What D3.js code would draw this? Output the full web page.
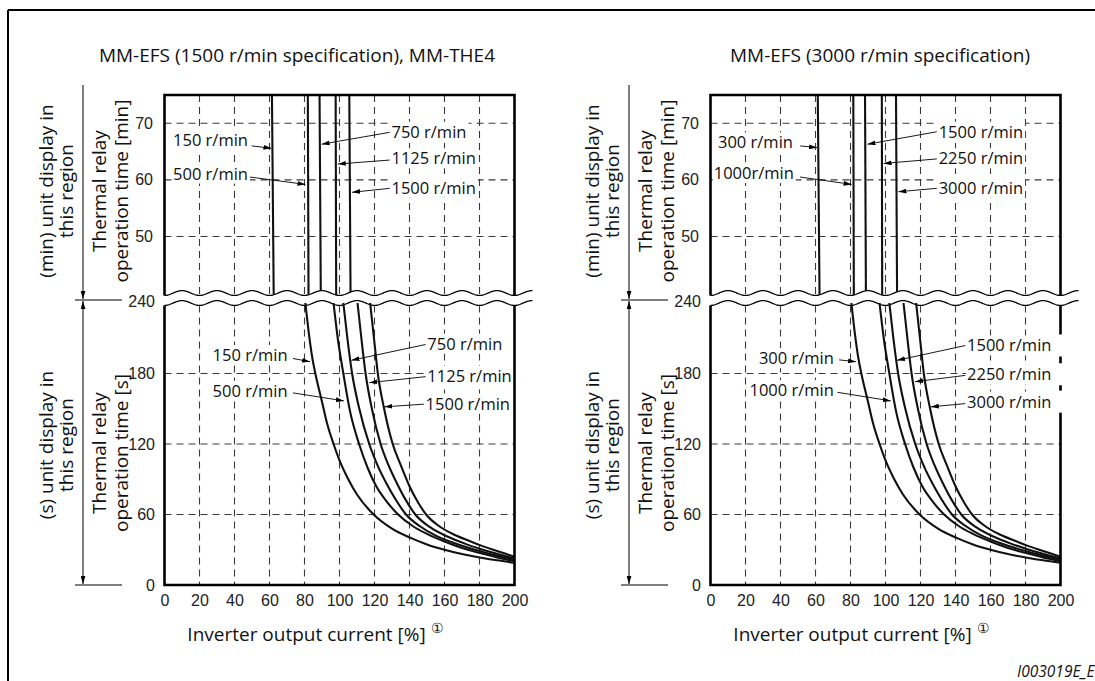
<!DOCTYPE html>
<html><head><meta charset="utf-8">
<script src="https://cdn.jsdelivr.net/npm/d3@7"></script>
<style>
body{margin:0;background:#fff;}
svg{display:block;}
</style></head><body>
<svg id="c" width="1095" height="681"></svg>
<script>
// ---------------- data ----------------
const xTicks = [0,20,40,60,80,100,120,140,160,180,200];
const minTicks = [50,60,70];
const secTicks = [0,60,120,180,240];
const titles = ["MM-EFS (1500 r/min specification), MM-THE4", "MM-EFS (3000 r/min specification)"];
const speedsA = ["150 r/min","500 r/min","750 r/min","1125 r/min","1500 r/min"];
const speedsB = ["300 r/min","1000 r/min","1500 r/min","2250 r/min","3000 r/min"];
const speedsBUpper = ["300 r/min","1000r/min","1500 r/min","2250 r/min","3000 r/min"];
// minute region: inverter current [%] at 75 min and at the lower break
const minLinesA = [[61.4,62.4],[81.9,82.3],[88.6,89.3],[97.8,98.1],[105.6,106.3]];
const minLinesB = [[61.3,62.3],[81.6,81.9],[88.3,88.8],[97.9,98.1],[106.0,106.6]];
// second region: [inverter current %, operation time s]
const sec1 = [[80.5,240],[82.5,214],[84.5,193],[86.2,180],[90,156],[93,137],[96.6,120],[100,106],[105,90],[110,77],[119.5,60],[130,48],[140,40.5],[150,34.5],[160,30],[170,26.3],[181,23.2],[190,21],[200,19]];
const sec2 = [[96.6,240],[99,210],[102.2,180],[106,148],[111.2,120],[116,100],[121,84],[127,71],[133.5,60],[142,50],[150,43.5],[160,37],[170,31.5],[181,27],[190,23.5],[200,20.5]];
const sec3 = [[102.2,240],[104.5,210],[107.2,180],[111,152],[117,120],[122,101],[127,86],[132,73],[138,60],[146,50],[155,42],[165,36],[181,28.5],[190,25],[200,21.5]];
const sec4 = [[110.3,240],[112.5,210],[114.9,180],[118.5,150],[123.5,120],[128,102],[133,86],[138,72],[143.3,60],[152,49],[162,41],[172,35],[181,30.5],[190,26.5],[200,22.5]];
const sec5 = [[117.5,240],[119.7,210],[121.9,180],[125.5,150],[130.4,120],[135,102],[140,84],[145,70],[149.5,60],[157,50],[166,42.5],[175,37],[181,33.5],[190,29],[200,24]];
const secCurves = [sec1, sec2, sec3, sec4, sec5];
// callouts: [label index, anchor, text x%, text value, from x%, from value, tip x%, tip value]
const upCallA = [[0,"end",47.7,67.0,49.8,66.0,61.1,65.6],[1,"end",47.7,61.1,48.8,60.5,80.5,59.2],[2,"start",129.7,68.5,128.7,68.4,89.8,66.3],[3,"start",129.7,63.8,128.7,63.5,99.0,62.8],[4,"start",129.7,58.6,128.7,58.5,107.2,57.8]];
const lowCallA = [[0,"end",70.3,195.7,73.4,192.8,83.2,190],[1,"end",70.3,165.2,73.4,163.5,102.5,156.7],[2,"start",150.2,205.3,149.2,204.7,106.8,191.2],[3,"start",150.2,177.9,149.2,177.3,117.0,172.2],[4,"start",149.2,154.4,148.2,153.9,125.6,151.6]];
const upCallB = [[0,"end",47.1,66.6,51.2,66.0,60.9,65.7],[1,"end",47.6,61.2,51.2,60.5,80.6,59.2],[2,"start",130.4,68.5,129.3,68.5,89.7,66.3],[3,"start",130.4,63.8,129.3,63.7,98.9,62.9],[4,"start",130.4,58.6,129.3,58.5,107.4,57.9]];
const lowCallB = [[0,"end",70.5,193.0,73.5,191.6,83.2,190],[1,"end",70.5,165.9,72.5,164.0,103.0,156.7],[2,"start",146.6,203.8,145.6,203.8,106.6,191.2],[3,"start",146.6,179.3,145.6,178.4,116.8,173.0],[4,"start",146.6,156.0,145.6,154.4,125.9,151.6]];

// ---------------- drawing ----------------
const svg = d3.select("#c");
const SANS = "'Open Sans', 'Noto Sans', sans-serif";
const ARIAL = "'Liberation Sans', Arial, sans-serif";

svg.append("defs").append("marker")
  .attr("id","ah").attr("viewBox","0 0 10 6").attr("refX",10).attr("refY",3)
  .attr("markerWidth",8).attr("markerHeight",5).attr("markerUnits","userSpaceOnUse")
  .attr("orient","auto-start-reverse")
  .append("path").attr("d","M0,0 L10,3 L0,6 Z").attr("fill","#000");

// outer frame
svg.append("line").attr("x1",8).attr("x2",1095).attr("y1",10).attr("y2",10).attr("stroke","#000").attr("stroke-width",2);
svg.append("line").attr("x1",8).attr("x2",8).attr("y1",10).attr("y2",681).attr("stroke","#000").attr("stroke-width",2);

const charts = [
  {dx:0, title:titles[0], titleX:297, speedsU:speedsA, speedsL:speedsA, minLines:minLinesA, up:upCallA, low:lowCallA, cover:false},
  {dx:546, title:titles[1], titleX:880, speedsU:speedsBUpper, speedsL:speedsB, minLines:minLinesB, up:upCallB, low:lowCallB, cover:true}
];

const WAVE_P = 35, WAVE_A = 2.4;

charts.forEach(ch => {
  const g = svg.append("g");
  const x = d3.scaleLinear().domain([0,200]).range([164.5+ch.dx, 514.5+ch.dx]);
  const yU = d3.scaleLinear().domain([40,75]).range([293,95]);
  const yL = d3.scaleLinear().domain([0,240]).range([585,303]);
  const x0 = x(0), x1 = x(200);
  const waveY = (base, px) => base + WAVE_A*Math.cos(2*Math.PI*(px-x0)/WAVE_P);

  // title
  g.append("text").attr("x",ch.titleX).attr("y",62).attr("text-anchor","middle")
    .attr("font-family",SANS).attr("font-size",19).attr("fill","#111").text(ch.title);

  // grid
  const grid = g.append("g").attr("stroke","#3a3a3a").attr("stroke-width",1.1).attr("stroke-dasharray","7,5");
  xTicks.slice(1,-1).forEach(v => {
    grid.append("line").attr("x1",x(v)).attr("x2",x(v)).attr("y1",yU(75)).attr("y2",waveY(yU(40),x(v)));
    grid.append("line").attr("x1",x(v)).attr("x2",x(v)).attr("y1",waveY(yL(240),x(v))).attr("y2",yL(0));
  });
  minTicks.forEach(v => grid.append("line").attr("x1",x0).attr("x2",x1).attr("y1",yU(v)).attr("y2",yU(v)));
  secTicks.slice(1,-1).forEach(v => grid.append("line").attr("x1",x0).attr("x2",x1).attr("y1",yL(v)).attr("y2",yL(v)));

  // waves
  const wavePts = base => d3.range(x0, x1+18.5, 1).map(px => [px, waveY(base, px)]);
  const wl = d3.line();
  g.append("path").attr("d",wl(wavePts(yU(40)))).attr("fill","none").attr("stroke","#000").attr("stroke-width",1.3);
  g.append("path").attr("d",wl(wavePts(yL(240)))).attr("fill","none").attr("stroke","#000").attr("stroke-width",1.3);

  // minute-region lines
  g.append("g").selectAll("line").data(ch.minLines).join("line")
    .attr("x1",d=>x(d[0])).attr("y1",yU(75)).attr("x2",d=>x(d[1])).attr("y2",d=>waveY(yU(40),x(d[1])))
    .attr("stroke","#111").attr("stroke-width",2.1);

  // second-region curves
  const line = d3.line().x(d=>x(d[0])).y(d=>yL(d[1])).curve(d3.curveMonotoneX);
  g.append("g").selectAll("path").data(secCurves).join("path")
    .attr("d",line).attr("fill","none").attr("stroke","#111").attr("stroke-width",2.1);

  // callouts
  const covers = [];
  const callout = (list, yS, names, isLow) => {
    list.forEach(c => {
      const [i, anchor, tx, tv, fx, fv, px, pv] = c;
      g.append("line").attr("x1",x(fx)).attr("y1",yS(fv)).attr("x2",x(px)).attr("y2",yS(pv))
        .attr("stroke","#000").attr("stroke-width",0.9).attr("marker-end","url(#ah)");
      const t = g.append("text").attr("x",x(tx)).attr("y",yS(tv)).attr("dy","0.36em")
        .attr("text-anchor",anchor).attr("font-family",SANS).attr("font-size",16.5).attr("fill","#111")
        .text(names[i]);
      const b = t.node().getBBox();
      g.insert("rect", () => t.node()).attr("x",b.x-1).attr("y",b.y+2).attr("width",b.width+3).attr("height",b.height-3).attr("fill","#fff");
      if (isLow && anchor === "start") covers.push(b);
    });
  };
  callout(ch.up, yU, ch.speedsU, false);
  callout(ch.low, yL, ch.speedsL, true);

  // frames
  const fr = g.append("g").attr("stroke","#000").attr("stroke-width",2.6).attr("fill","none");
  fr.append("path").attr("d",`M${x0},${waveY(yU(40),x0)}V${yU(75)}H${x1}V${waveY(yU(40),x1)}`);
  fr.append("path").attr("d",`M${x0},${waveY(yL(240),x0)}V${yL(0)}H${x1}V${waveY(yL(240),x1)}`);
  if (ch.cover) covers.forEach(b => g.append("rect").attr("x",b.x+b.width).attr("y",b.y+1).attr("width",x1+3-(b.x+b.width)).attr("height",b.height-1).attr("fill","#fff"));

  // axes
  const ax = g.append("g").attr("transform",`translate(0,${yL(0)})`)
    .call(d3.axisBottom(x).tickValues(xTicks).tickSize(0).tickPadding(9.5));
  ax.select(".domain").remove();
  ax.selectAll("text").attr("font-family",ARIAL).attr("font-size",16).attr("fill","#222");
  const ayU = g.append("g").attr("transform",`translate(${x0},0)`)
    .call(d3.axisLeft(yU).tickValues(minTicks).tickSize(0).tickPadding(11.5));
  ayU.select(".domain").remove();
  ayU.selectAll("text").attr("font-family",ARIAL).attr("font-size",16).attr("fill","#222");
  const ayL = g.append("g").attr("transform",`translate(${x0},0)`)
    .call(d3.axisLeft(yL).tickValues(secTicks).tickSize(0).tickPadding(9.5));
  ayL.select(".domain").remove();
  ayL.selectAll("text").attr("font-family",ARIAL).attr("font-size",16).attr("fill","#222");
  ayL.selectAll(".tick").filter(d=>d===240).attr("transform",`translate(0,${yL(240)-1})`);

  // x-axis title
  const axc = (x0+x1)/2 - 33;
  g.append("text").attr("x",axc).attr("y",641).attr("text-anchor","middle")
    .attr("font-family",SANS).attr("font-size",19).attr("fill","#111").text("Inverter output current [%]");
  g.append("text").attr("x",axc+124).attr("y",633).attr("text-anchor","start")
    .attr("font-family",SANS).attr("font-size",14).attr("fill","#111").text("\u2460");

  // dimension arrows on the left
  const ax0 = 83 + ch.dx;
  const dim = g.append("g").attr("stroke","#000").attr("stroke-width",1);
  dim.append("line").attr("x1",ax0).attr("x2",ax0).attr("y1",85).attr("y2",299).attr("marker-end","url(#ah)");
  dim.append("line").attr("x1",75+ch.dx).attr("x2",122+ch.dx).attr("y1",300).attr("y2",300);
  dim.append("line").attr("x1",ax0).attr("x2",ax0).attr("y1",301).attr("y2",584)
    .attr("marker-start","url(#ah)").attr("marker-end","url(#ah)");
  dim.append("line").attr("x1",75+ch.dx).attr("x2",122+ch.dx).attr("y1",yL(0)).attr("y2",yL(0));

  // rotated labels
  const rot = (cx, cy, lines, gap) => {
    const rg = g.append("g").attr("transform",`translate(${cx},${cy}) rotate(-90)`);
    lines.forEach((t,i) => rg.append("text").attr("x",0).attr("y",(i-(lines.length-1)/2)*gap).attr("dy","0.36em")
      .attr("text-anchor","middle").attr("font-family",SANS).attr("font-size",19).attr("fill","#111").text(t));
  };
  rot(56+ch.dx, 191, ["(min) unit display in","this region"], 19.5);
  rot(110+ch.dx, 191, ["Thermal relay","operation time [min]"], 22.5);
  rot(56+ch.dx, 445, ["(s) unit display in","this region"], 19.5);
  rot(110+ch.dx, 453, ["Thermal relay","operation time [s]"], 22.5);
});

svg.append("text").attr("x",1017).attr("y",677).attr("font-family",SANS).attr("font-style","italic")
  .attr("font-size",15.5).attr("fill","#111").text("I003019E_E");
</script>
</body></html>
